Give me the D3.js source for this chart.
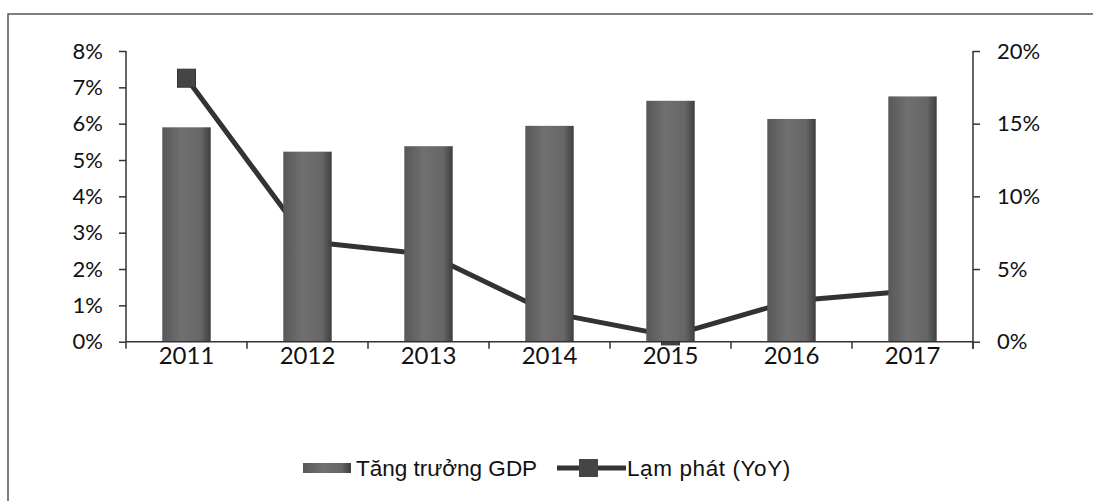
<!DOCTYPE html>
<html><head><meta charset="utf-8">
<script src="https://cdn.jsdelivr.net/npm/d3@7"></script>
<style>body{margin:0;background:#fff}svg{display:block}</style>
</head><body>
<svg id="c" width="1093" height="501"></svg>
<script>
const years = ["2011","2012","2013","2014","2015","2016","2017"];
const gdp = [5.9, 5.23, 5.38, 5.94, 6.63, 6.13, 6.75];
const inflation = [18.13, 6.9, 6.0, 2.0, 0.4, 2.8, 3.5];
const leftTicks = [0,1,2,3,4,5,6,7,8];
const rightTicks = [0,5,10,15,20];
const seriesNames = ["Tăng trưởng GDP", "Lạm phát (YoY)"];

const svg = d3.select("#c");
const axisFont = "Lato, 'Open Sans', sans-serif";
const legFont = "'Liberation Sans', Arial, sans-serif";
const m = {l:126, r:973, t:51, b:341.7};

// frame
svg.append("rect").attr("x",8).attr("y",14).attr("width",1200).attr("height",600)
  .attr("fill","none").attr("stroke","#555").attr("stroke-width",1.5);

const defs = svg.append("defs");
const g1 = defs.append("linearGradient").attr("id","barg").attr("x1","0").attr("x2","1").attr("y1","0").attr("y2","0");
g1.append("stop").attr("offset","0").attr("stop-color","#585858");
g1.append("stop").attr("offset","0.4").attr("stop-color","#707070");
g1.append("stop").attr("offset","0.8").attr("stop-color","#666");
g1.append("stop").attr("offset","1").attr("stop-color","#3e3e3e");

const x = d3.scaleBand().domain(years).range([m.l, m.r]).paddingInner(0.6).paddingOuter(0.3);
const xb = d3.scaleBand().domain(years).range([m.l, m.r]);
const yL = d3.scaleLinear().domain([0,8]).range([m.b, m.t]);
const yR = d3.scaleLinear().domain([0,20]).range([m.b, m.t]);

// line (behind bars)
const line = d3.line().x((d,i)=>xb(years[i])+xb.bandwidth()/2).y(d=>yR(d));
svg.append("path").datum(inflation).attr("d",line).attr("fill","none")
  .attr("stroke","#333").attr("stroke-width",5).attr("stroke-linejoin","round");
svg.selectAll("rect.mk").data(inflation).join("rect").attr("class","mk")
  .attr("x",(d,i)=>xb(years[i])+xb.bandwidth()/2-9).attr("y",d=>yR(d)-9)
  .attr("width",18).attr("height",18).attr("fill","#454545").attr("stroke","#333").attr("stroke-width",1);

// bars
svg.selectAll("rect.bar").data(gdp).join("rect").attr("class","bar")
  .attr("x",(d,i)=>x(years[i])).attr("width",x.bandwidth())
  .attr("y",d=>yL(d)).attr("height",d=>m.b-yL(d)).attr("fill","url(#barg)");

// axes
const la = svg.append("g").attr("transform",`translate(${m.l},0)`)
  .call(d3.axisLeft(yL).tickValues(leftTicks).tickFormat(d=>d+"%").tickSize(7).tickPadding(16));
const ra = svg.append("g").attr("transform",`translate(${m.r},0)`)
  .call(d3.axisRight(yR).tickValues(rightTicks).tickFormat(d=>d+"%").tickSize(7).tickPadding(17));
const xa = svg.append("g").attr("transform",`translate(0,${m.b})`)
  .call(d3.axisBottom(xb).tickSize(0).tickPadding(5));
// category boundary ticks
const bounds = years.map(y=>xb(y)).concat([m.r]);
svg.selectAll("line.bt").data(bounds).join("line").attr("class","bt")
  .attr("x1",d=>d).attr("x2",d=>d).attr("y1",m.b).attr("y2",m.b+7)
  .attr("stroke","#333").attr("stroke-width",1.5);
[la,ra,xa].forEach(a=>{
  a.select(".domain").attr("stroke","#333").attr("stroke-width",1.5);
  a.selectAll(".tick line").attr("stroke","#333").attr("stroke-width",1.5);
  a.selectAll("text").attr("font-family",axisFont).attr("font-size",22).attr("fill","#111");
});
xa.selectAll("text").attr("font-size",24);
la.select(".domain").attr("d",`M-0,${m.t}H0V${m.b}`);
ra.select(".domain").attr("d",`M0,${m.t}H0V${m.b+7}`);
xa.select(".domain").attr("d",`M${m.l},0H${m.r}`);

// legend
const lg = svg.append("g");
lg.append("rect").attr("x",303).attr("y",463).attr("width",48).attr("height",10).attr("fill","url(#barg)");
lg.append("text").attr("x",356).attr("y",476).text(seriesNames[0])
  .attr("font-family",legFont).attr("font-size",22.5).attr("fill","#111");
lg.append("line").attr("x1",557).attr("x2",626).attr("y1",468).attr("y2",468).attr("stroke","#333").attr("stroke-width",5);
lg.append("rect").attr("x",579).attr("y",459).attr("width",19).attr("height",18).attr("fill","#454545");
lg.append("text").attr("x",627).attr("y",476).text(seriesNames[1])
  .attr("font-family",legFont).attr("font-size",22.5).attr("letter-spacing",0.6).attr("fill","#111");
</script>
</body></html>
